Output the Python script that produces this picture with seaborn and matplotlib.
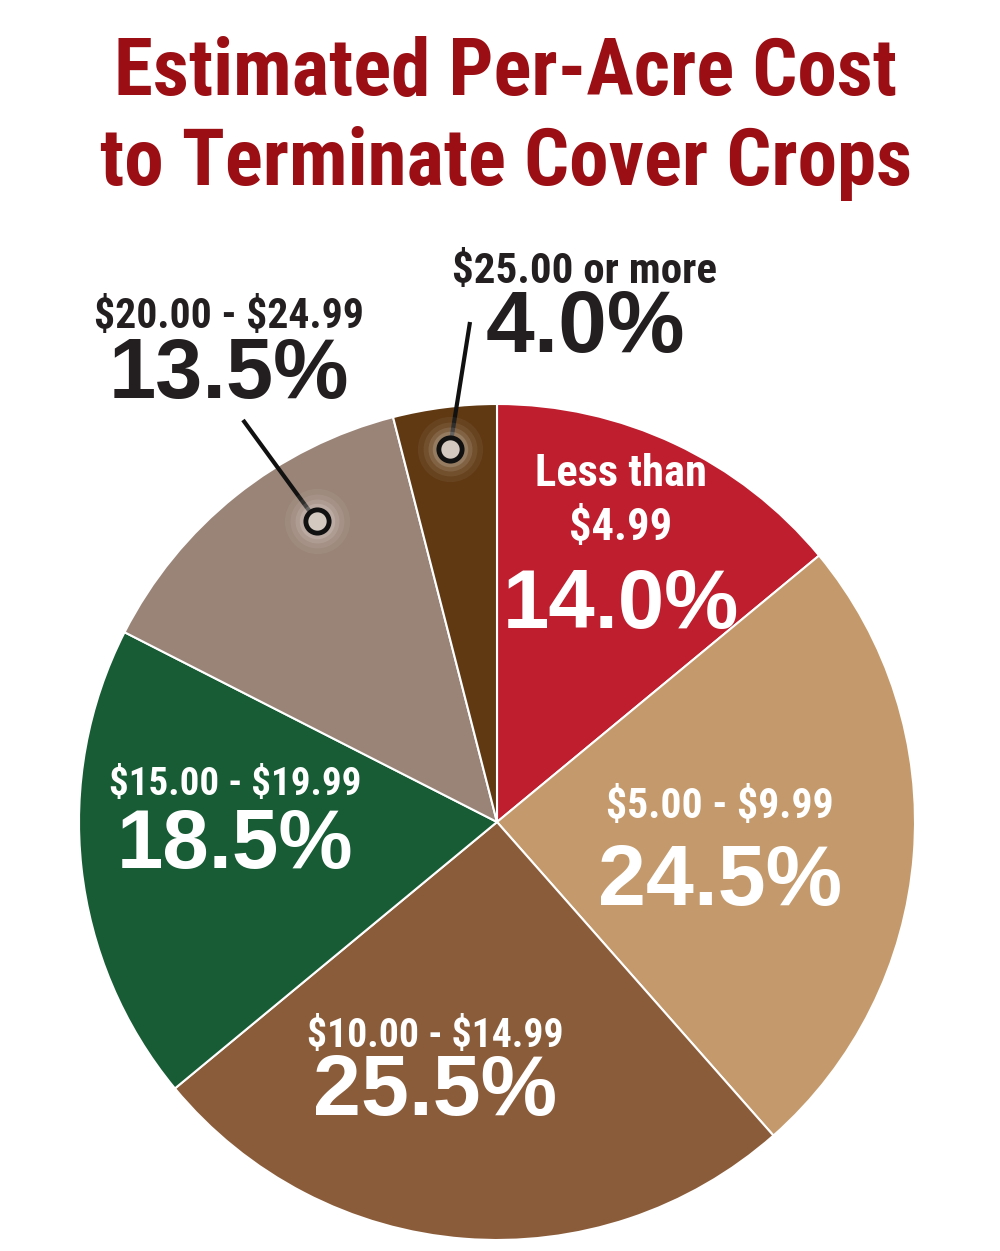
import numpy as np
import matplotlib
matplotlib.use("Agg")
import matplotlib.pyplot as plt
import seaborn as sns

# data
ranges = ["Less than\n$4.99", "$5.00 - $9.99", "$10.00 - $14.99",
          "$15.00 - $19.99", "$20.00 - $24.99", "$25.00 or more"]
shares = [14.0, 24.5, 25.5, 18.5, 13.5, 4.0]
colors = ["#BE1E2D", "#C49A6C", "#8B5C3A", "#175C35", "#9A8478", "#603913"]

sns.set_theme(style="white")
plt.rcParams['font.family'] = ['Liberation Sans', 'DejaVu Sans']
plt.rcParams['text.parse_math'] = False
NARROW = ['Liberation Sans Narrow', 'Roboto Condensed', 'Liberation Sans', 'DejaVu Sans']
WIDE = ['Liberation Sans', 'Arial', 'DejaVu Sans']

W, H = 1000, 1251
fig = plt.figure(figsize=(W / 100, H / 100), dpi=100)
fig.patch.set_facecolor("white")

def fx(px):
    return px / W

def fy(py):
    return 1 - py / H

# pie axes: center (497, 822) px, radius 418 px
cx, cy, R = 497, 822, 418
ax = fig.add_axes([fx(cx - R), fy(cy + R), 2 * R / W, 2 * R / H])
wedges, _ = ax.pie(shares, colors=sns.color_palette(colors), startangle=90,
                   counterclock=False, radius=1,
                   wedgeprops=dict(edgecolor="white", linewidth=1.5))
ax.set_xlim(-1, 1)
ax.set_ylim(-1, 1)
ax.set_aspect("equal")
ax.axis("off")

# title
title_c = "#9B0E14"
fig.text(fx(505), fy(95), "Estimated Per-Acre Cost", ha="center", va="baseline",
         fontsize=57, fontweight="bold", color=title_c, family=NARROW)
fig.text(fx(506), fy(185), "to Terminate Cover Crops", ha="center", va="baseline",
         fontsize=57, fontweight="bold", color=title_c, family=NARROW)

# labels: (x, range baseline, pct baseline, colour, range size, pct size)
label_pos = [
    (621, 540, 628, "white", 32, 60),
    (720, 818, 905, "white", 30, 62),
    (435, 1047, 1115, "white", 28.5, 62),
    (235, 795, 868, "white", 28, 60),
    (229, 328, 398, "#231F20", 30, 61),
    (585, 283, 352, "#231F20", 31, 63),
]
for name, val, (x, yb, yp, c, rs, ps) in zip(ranges, shares, label_pos):
    fig.text(fx(x), fy(yb), name, ha="center", va="baseline", fontsize=rs,
             fontweight="bold", color=c, family=NARROW, linespacing=1.35)
    fig.text(fx(x), fy(yp), f"{val:.1f}%", ha="center", va="baseline",
             fontsize=ps, fontweight="bold", color=c, family=WIDE)

# leader lines for the two small slices
def wedge_point(w, frac, r):
    ang = np.deg2rad(w.theta1 + frac * (w.theta2 - w.theta1))
    return r * np.cos(ang), r * np.sin(ang)

leaders = [(wedges[4], 0.34, 0.84, (243, 420)),
           (wedges[5], 0.50, 0.90, (470, 322))]
for w, frac, r, (lx, ly) in leaders:
    px, py = wedge_point(w, frac, r)
    tx, ty = (lx - cx) / R, (cy - ly) / R
    ax.plot([tx, px], [ty, py], color="#111111", lw=3, solid_capstyle="butt",
            zorder=5, clip_on=False)
    for s, a in [(2200, 0.06), (1500, 0.08), (1000, 0.12), (650, 0.18)]:
        ax.scatter([px], [py], s=s, color="#F4EFEA", alpha=a, lw=0, zorder=5)
    ax.scatter([px], [py], s=280, color="#D3C9C0", edgecolor="#111111",
               linewidth=3.5, zorder=6)

fig.savefig("out.png", dpi=100, facecolor="white")
